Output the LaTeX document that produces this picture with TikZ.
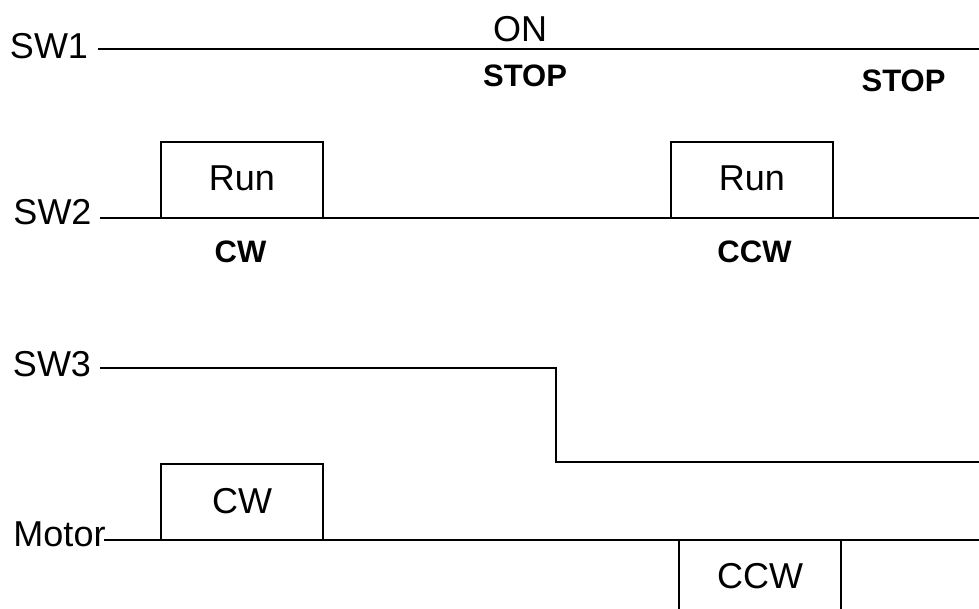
\documentclass[tikz,border=0pt]{standalone}
\usepackage{fontspec}
\setmainfont{Liberation Sans}
\begin{document}
\begin{tikzpicture}[x=1pt,y=-1pt,
  lbl/.style={font=\fontsize{36}{40}\selectfont, inner sep=0pt, anchor=base},
  blbl/.style={font=\fontsize{31}{35}\selectfont\bfseries, inner sep=0pt, anchor=base},
  sig/.style={line width=2pt},
  pulse/.style={line width=1.8pt}]
\useasboundingbox[fill=white] (0,0) rectangle (979,609);
% labels
\node[lbl] (sw1) at (49,58.5) {SW1};
\node[lbl] (on) at (520,41.5) {ON};
\node[blbl] (stop1) at (525,87) {STOP};
\node[blbl] (stop2) at (903.5,91.5) {STOP};
\node[lbl] (sw2) at (52.5,224.5) {SW2};
\node[lbl] (run1) at (242,190.5) {Run};
\node[lbl] (run2) at (752,190.5) {Run};
\node[blbl] (cwb) at (240.5,263) {CW};
\node[blbl] (ccwb) at (754.5,263) {CCW};
\node[lbl] (sw3) at (52,376.5) {SW3};
\node[lbl] (motor) at (59.5,546) {Motor};
\node[lbl] (cw) at (242,513) {CW};
\node[lbl] (ccw) at (760,588) {CCW};
% coordinates
\coordinate (s1a) at (98,49);   \coordinate (s1b) at (979,49);
\coordinate (s2a) at (100,218); \coordinate (s2b) at (979,218);
\coordinate (s3a) at (100,368); \coordinate (s3s) at (556,368);
\coordinate (s3t) at (556,462); \coordinate (s3b) at (979,462);
\coordinate (ma) at (104,540);  \coordinate (mb) at (979,540);
% signal lines
\draw[sig] (s1a) -- (s1b);
\draw[sig] (s2a) -- (s2b);
\draw[sig] (s3a) -- (s3s) -- (s3t) -- (s3b);
\draw[sig] (ma) -- (mb);
% pulses
\draw[pulse] (161,218) |- (323,142) -- (323,218);
\draw[pulse] (671,218) |- (833,142) -- (833,218);
\draw[pulse] (161,540) |- (323,464) -- (323,540);
\draw[pulse] (679,540) -- (679,609);
\draw[pulse] (841,540) -- (841,609);
\end{tikzpicture}
\end{document}
